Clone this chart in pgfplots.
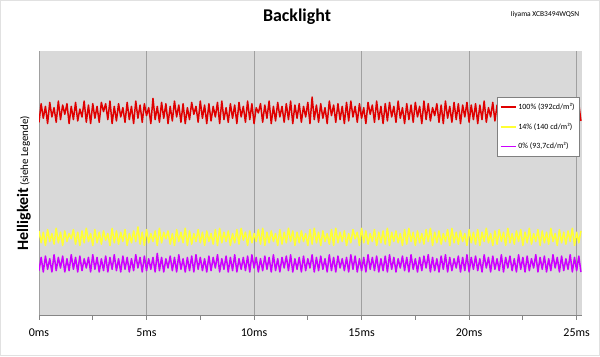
\documentclass[border=0pt]{standalone}
\usepackage{fontspec}
\setmainfont{Carlito}
\usepackage{pgfplots}
\usepackage{pgfplotstable}
\pgfplotsset{compat=1.18}
\definecolor{bgplot}{RGB}{217,217,217}
\definecolor{gridc}{RGB}{160,160,160}
\definecolor{axc}{RGB}{134,134,134}
\definecolor{cred}{RGB}{224,0,0}
\definecolor{cyel}{RGB}{255,255,51}
\definecolor{cmag}{RGB}{204,0,255}
\definecolor{framec}{RGB}{225,225,225}

\pgfplotstableread[row sep=\\]{v\\
73\\80\\74.5\\79\\72.5\\80.5\\75\\78.5\\73\\81\\74\\79.5\\76\\80\\72.5\\79\\74\\80.5\\73.5\\78\\75\\81\\73\\79.5\\72.5\\80\\74.5\\79\\73\\80.5\\77\\80\\74\\81\\72.5\\79\\73.5\\80\\75\\78.5\\
73\\80.5\\74\\79\\72.5\\81\\74.5\\79.5\\73\\80\\75.5\\78.5\\72.5\\82\\74\\79\\73\\80.5\\74.5\\80\\72.5\\79\\73.5\\81\\75\\79.5\\73\\80\\72.5\\78.5\\74\\80.5\\76\\79\\73\\81\\74.5\\79.5\\72.5\\80\\
73.5\\79\\75\\80.5\\72.5\\81\\74\\78.5\\73\\80\\74.5\\79.5\\72.5\\80.5\\75\\79\\73\\81\\74\\80\\72.5\\78.5\\76.5\\80\\73\\79.5\\74.5\\81\\72.5\\79\\73.5\\80.5\\75\\79\\73\\80\\74\\81\\72.5\\79.5\\
74.5\\80\\73\\79\\75\\80.5\\72.5\\82.5\\74\\79.5\\73\\80\\74.5\\78.5\\72.5\\81\\75.5\\79.5\\73\\80\\74\\79\\72.5\\80.5\\73.5\\81\\75\\79\\73\\80\\74.5\\78.5\\72.5\\80.5\\76\\79.5\\73\\81\\74\\79\\
72.5\\80\\73.5\\80.5\\75\\79\\73\\81\\74.5\\78.5\\72.5\\80\\74\\79.5\\73\\80.5\\75\\79\\72.5\\81\\74\\80\\73.5\\78.5\\75.5\\80\\73\\79.5\\72.5\\81\\74.5\\79\\73\\80.5\\74\\80\\72.5\\79.5\\75\\80.5\\
73\\79.5\\74\\
80\\72.5\\79.5\\74\\81\\73\\78.5\\75\\80.5\\73.5\\79.5\\72.5\\80\\74.5\\81\\73\\79\\74\\80.5\\72.5\\79.5\\75\\80\\73\\78.5\\74\\81\\72.5\\79.5\\73.5\\80\\75\\80.5\\73\\79\\74.5\\81\\72.5\\79.5\\74\\80\\73\\78.5\\75\\80.5\\72.5\\79\\74\\80\\73.5\\
}\redtab

\pgfplotstableread[row sep=\\]{v\\
32\\27.5\\31.5\\26.5\\32.5\\28\\31\\27\\33\\27.5\\31.5\\26.5\\32\\28\\31\\29\\32.5\\27\\31.5\\26.5\\32\\27.5\\33\\28\\31\\26.5\\32.5\\27.5\\31.5\\27\\32\\28.5\\31\\26.5\\33\\27.5\\32\\27\\31.5\\28\\
32.5\\26.5\\31\\27.5\\32\\28\\33.5\\27\\31.5\\26.5\\32.5\\27.5\\31\\28\\32\\26.5\\33\\27.5\\31.5\\29\\32\\27\\31\\26.5\\32.5\\28\\31.5\\27.5\\33\\26.5\\32\\27\\31\\28\\32.5\\27.5\\31.5\\26.5\\32\\28\\
31\\27\\32.5\\26.5\\33\\27.5\\31.5\\28\\32\\26.5\\31\\27.5\\32.5\\27\\33\\28.5\\31.5\\26.5\\32\\27.5\\31\\28\\32.5\\27\\33\\26.5\\31.5\\27.5\\32\\28\\31\\26.5\\32.5\\27\\31.5\\27.5\\33\\28\\32\\26.5\\
31.5\\27.5\\32\\28\\31\\26.5\\32.5\\27\\33\\27.5\\31.5\\26.5\\32\\28\\31\\27\\32.5\\26.5\\33\\27.5\\31.5\\28\\32\\26.5\\31\\27.5\\32.5\\29\\31.5\\26.5\\33\\27.5\\32\\27\\31\\28\\32.5\\26.5\\31.5\\27.5\\
32\\27\\33\\26.5\\31.5\\28\\32\\27.5\\31\\26.5\\32.5\\27\\33\\28\\31.5\\26.5\\32\\27.5\\31\\27\\32.5\\28\\33\\26.5\\31.5\\27.5\\32\\27\\31\\28\\32.5\\26.5\\33\\27.5\\31.5\\27\\32\\28\\31\\26.5\\
32.5\\27.5\\31.5\\
27\\32.5\\26.5\\31.5\\28\\33\\27.5\\31\\26.5\\32\\27\\32.5\\28\\31.5\\26.5\\33\\27.5\\31\\27\\32\\28\\32.5\\26.5\\31.5\\27.5\\33\\27\\31\\28\\32.5\\26.5\\32\\27.5\\31.5\\27\\33\\28\\31\\26.5\\32.5\\27.5\\31.5\\27\\32\\28\\33\\26.5\\31.5\\27.5\\32\\
}\yeltab

\pgfplotstableread[row sep=\\]{v\\
17\\22\\16.5\\22.5\\17.5\\21.5\\16.5\\23\\17\\22\\18\\22.5\\16.5\\21.5\\17\\23\\17.5\\22\\16.5\\22.5\\17\\21.5\\18\\22\\16.5\\23\\17.5\\22\\16.5\\21.5\\17\\22.5\\16.5\\22\\17.5\\23\\17\\21.5\\16.5\\22.5\\
17.5\\22\\16.5\\21.5\\17\\23\\18\\22\\16.5\\22.5\\17\\21.5\\17.5\\22\\16.5\\23.5\\17\\22\\16.5\\21.5\\18\\22.5\\17\\22\\16.5\\23\\17.5\\21.5\\16.5\\22\\17\\22.5\\16.5\\23\\17.5\\22\\17\\21.5\\16.5\\22.5\\
17\\22\\18\\23\\16.5\\21.5\\17.5\\22.5\\16.5\\22\\17\\23\\16.5\\21.5\\17.5\\22\\17\\22.5\\16.5\\23\\18\\22\\16.5\\21.5\\17\\22.5\\17.5\\22\\16.5\\23\\17\\21.5\\16.5\\22\\18\\22.5\\17\\23\\16.5\\21.5\\
17.5\\22\\16.5\\22.5\\17\\21.5\\18\\23\\16.5\\22\\17\\22.5\\17.5\\21.5\\16.5\\23\\17\\22\\16.5\\22.5\\18\\21.5\\17\\22\\16.5\\23\\17.5\\22.5\\16.5\\21.5\\17\\22\\16.5\\23\\17.5\\22\\17\\22.5\\16.5\\21.5\\
17\\22.5\\16.5\\23\\17.5\\22\\16.5\\21.5\\18\\22.5\\17\\22\\16.5\\23\\17.5\\21.5\\16.5\\22\\17\\22.5\\18\\23\\16.5\\22\\17\\21.5\\16.5\\22.5\\17.5\\23\\16.5\\22\\17\\21.5\\18\\22.5\\16.5\\22\\17\\23\\
16.5\\22\\17.5\\
22.5\\17\\21.5\\16.5\\23\\18\\22\\16.5\\22.5\\17.5\\21.5\\17\\23\\16.5\\22\\18\\22.5\\17\\21.5\\16.5\\23\\17.5\\22\\16.5\\22.5\\17\\21.5\\18\\23\\16.5\\22\\17.5\\22.5\\16.5\\21.5\\17\\23\\18\\22\\16.5\\22.5\\17\\21.5\\17.5\\23\\16.5\\22\\17\\22.5\\16.5\\
}\magtab

\begin{document}
\begin{tikzpicture}[x=1bp,y=1bp]
\useasboundingbox (0,0) rectangle (600,356);
\fill[white] (0,0) rectangle (600,356);
\draw[framec, line width=1bp] (0.5,0.5) rectangle (599.5,355.5);
\begin{axis}[
  at={(39bp,40.3bp)}, anchor=south west,
  scale only axis, width=543bp, height=265bp,
  xmin=0, xmax=25.25, ymin=0, ymax=100,
  axis background/.style={fill=bgplot},
  axis x line*=bottom, axis y line=none,
  x axis line style={axc, line width=0.8bp},
  xtick={0,5,10,15,20,25},
  minor xtick={2.5,7.5,12.5,17.5,22.5},
  ytick=\empty,
  tick align=outside,
  major tick length=4bp, minor tick length=4bp,
  every tick/.style={axc, line width=0.8bp},
  xmajorgrids,
  major grid style={gridc, line width=0.8bp},
  xticklabel={\pgfmathprintnumber{\tick}ms},
  /pgf/number format/assume math mode=true,
  xticklabel style={font=\fontsize{12}{12}\selectfont, yshift=-6bp},
  legend cell align=left,
  legend image code/.code={\draw[#1, line width=1.6bp] (0bp,0bp) -- (15bp,0bp);},
  legend style={at={(axis description cs:0.996,0.825)}, anchor=north east,
    draw=gray, fill=white, font=\fontsize{8}{9}\selectfont,
    inner xsep=3bp, inner ysep=4bp, row sep=8bp},
]
\addplot[cred, line width=1.5bp, line join=round, no marks] table[x expr=\coordindex*0.1, y=v] {\redtab};
\addlegendentry{100\% (392cd/m²)}
\addplot[cyel, line width=1.5bp, line join=round, no marks] table[x expr=\coordindex*0.1, y=v] {\yeltab};
\addlegendentry{14\% (140 cd/m²)}
\addplot[cmag, line width=1.5bp, line join=round, no marks] table[x expr=\coordindex*0.1, y=v] {\magtab};
\addlegendentry{0\% (93,7cd/m²)}
\end{axis}
\node[font=\fontsize{18}{18}\selectfont\bfseries] at (297,339) {Backlight};
\node[font=\fontsize{7.5}{8}\selectfont] at (545,341) {Iiyama XCB3494WQSN};
\node[rotate=90] at (24,173) {{\fontsize{16}{16}\selectfont\bfseries Helligkeit} {\fontsize{11}{11}\selectfont (siehe Legende)}};
\end{tikzpicture}
\end{document}
